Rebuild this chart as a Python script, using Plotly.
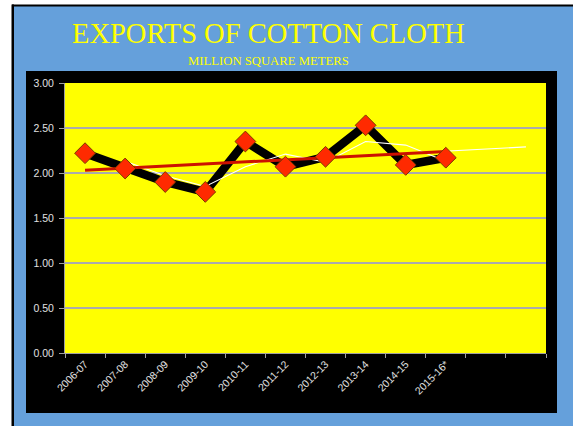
import plotly.graph_objects as go

# data
years = ["2006-07", "2007-08", "2008-09", "2009-10", "2010-11",
         "2011-12", "2012-13", "2013-14", "2014-15", "2015-16*"]
extra_cats = [" ", "  "]  # two empty slots at the right end of the axis
exports = [2.22, 2.05, 1.90, 1.79, 2.35, 2.07, 2.18, 2.53, 2.09, 2.17]
moving_avg = [None, 2.13, 1.97, 1.85, 2.07, 2.21, 2.12, 2.35, 2.31, 2.13]
trend_x = [years[0], extra_cats[-1]]
trend_white = [2.03, 2.29]
trend_red_x = [years[0], years[-1]]
trend_red = [2.03, 2.24]

cats = years + extra_cats

W, H = 573, 426
L, R, T, B = 65, 27, 83, 73
pw, ph = W - L - R, H - T - B


def px(x):
    return (x - L) / pw


def py(y):
    return (H - B - y) / ph


BLUE = "#65A0DB"
YELLOW = "#FFFF00"

fig = go.Figure()

fig.add_trace(go.Scatter(
    x=years, y=exports, mode="lines",
    line=dict(color="black", width=8.5),
    hoverinfo="skip", showlegend=False))

fig.add_trace(go.Scatter(
    x=years, y=moving_avg, mode="lines",
    line=dict(color="white", width=1.1),
    hoverinfo="skip", showlegend=False))

fig.add_trace(go.Scatter(
    x=trend_x, y=trend_white, mode="lines",
    line=dict(color="white", width=1.1),
    hoverinfo="skip", showlegend=False))

fig.add_trace(go.Scatter(
    x=trend_red_x, y=trend_red, mode="lines",
    line=dict(color="#CC1100", width=3),
    hoverinfo="skip", showlegend=False))

fig.add_trace(go.Scatter(
    x=years, y=exports, mode="markers",
    marker=dict(symbol="diamond", size=16, color="#FF2A00",
                line=dict(color="#7A3A00", width=1)),
    hovertemplate="%{x}: %{y:.2f}<extra></extra>", showlegend=False))

shapes = [
    # white strip on the left and the black border lines
    dict(type="rect", xref="paper", yref="paper",
         x0=px(0), x1=px(12), y0=py(H), y1=py(0),
         fillcolor="white", line_width=0, layer="below"),
    dict(type="rect", xref="paper", yref="paper",
         x0=px(0), x1=px(W), y0=py(5), y1=py(0),
         fillcolor="white", line_width=0, layer="below"),
    dict(type="rect", xref="paper", yref="paper",
         x0=px(12), x1=px(W), y0=py(6.5), y1=py(4.5),
         fillcolor="black", line_width=0, layer="below"),
    dict(type="rect", xref="paper", yref="paper",
         x0=px(11.5), x1=px(14), y0=py(H), y1=py(4.5),
         fillcolor="black", line_width=0, layer="below"),
    # black chart panel
    dict(type="rect", xref="paper", yref="paper",
         x0=px(26), x1=px(557), y0=py(413), y1=py(71),
         fillcolor="black", line_width=0, layer="below"),
    # yellow plot area
    dict(type="rect", xref="paper", yref="paper",
         x0=0, x1=1, y0=0, y1=1,
         fillcolor=YELLOW, line_width=0, layer="below"),
]

annotations = [
    dict(text="EXPORTS OF COTTON CLOTH", xref="paper", yref="paper",
         x=px(268), y=py(34), xanchor="center", yanchor="middle",
         showarrow=False,
         font=dict(family="Liberation Serif", size=28.5, color=YELLOW)),
    dict(text="MILLION SQUARE METERS", xref="paper", yref="paper",
         x=px(268), y=py(61), xanchor="center", yanchor="middle",
         showarrow=False,
         font=dict(family="Liberation Serif", size=12.7, color=YELLOW)),
]

fig.update_layout(
    width=W, height=H,
    margin=dict(l=L, r=R, t=T, b=B, pad=0),
    paper_bgcolor=BLUE,
    plot_bgcolor=YELLOW,
    shapes=shapes,
    annotations=annotations,
    font=dict(family="Liberation Sans", size=10, color="#E0E0E0"),
    xaxis=dict(
        type="category", categoryorder="array", categoryarray=cats,
        range=[-0.5, len(cats) - 0.5],
        tickson="boundaries", ticks="outside", ticklen=4,
        tickcolor="#A0A0A0", showline=True, linecolor="#A0A0A0",
        linewidth=1, showgrid=False, tickangle=-45,
        tickfont=dict(size=10.5, color="#E0E0E0")),
    yaxis=dict(
        range=[0, 3], dtick=0.5, tickformat=".2f",
        ticks="outside", ticklen=5, tickcolor="#A0A0A0",
        showline=True, linecolor="#A0A0A0", linewidth=1,
        showgrid=True, gridcolor="#ABABAB", gridwidth=1.5,
        zeroline=False, ticklabelstandoff=3,
        tickfont=dict(size=10.5, color="#E0E0E0")),
)

# drop the default page margin so the figure sits at the window's corner
fig.write_html("out.html",
               config={"displayModeBar": False},
               post_script="document.body.style.margin='0';")
